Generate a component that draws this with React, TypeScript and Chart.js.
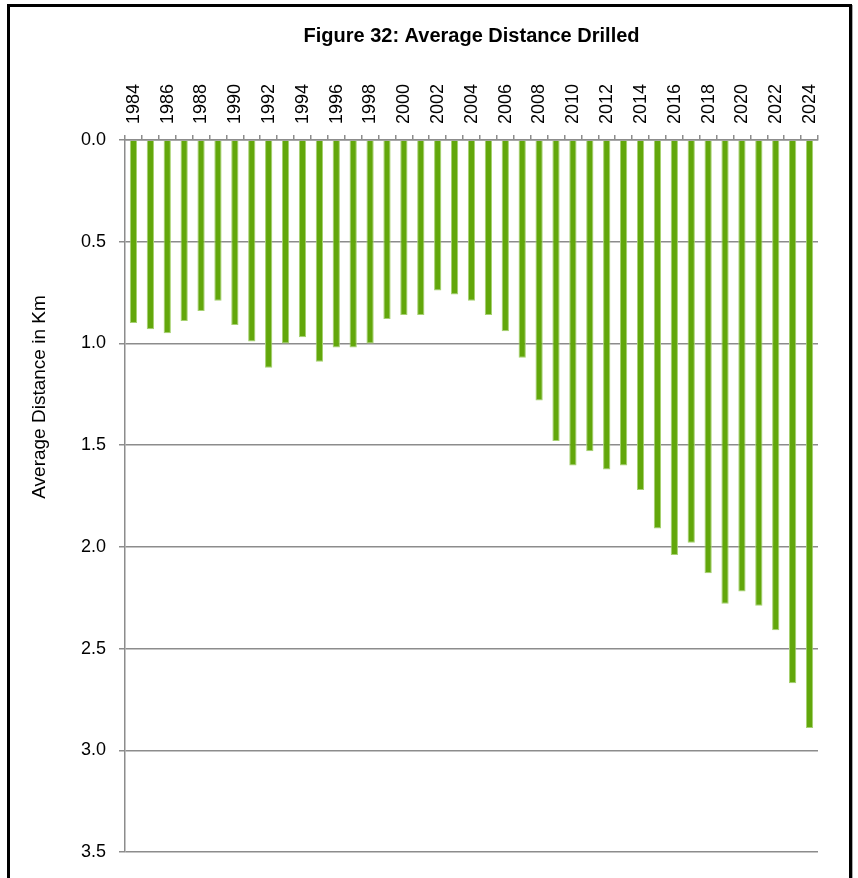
import React, { useEffect, useRef } from 'react';
import { Chart, registerables } from 'chart.js';

Chart.register(...registerables);

const CHART_TITLE = 'Figure 32: Average Distance Drilled';
const Y_AXIS_TITLE = 'Average Distance in Km';

const years: string[] = [
  '1984', '1985', '1986', '1987', '1988', '1989', '1990', '1991', '1992', '1993',
  '1994', '1995', '1996', '1997', '1998', '1999', '2000', '2001', '2002', '2003',
  '2004', '2005', '2006', '2007', '2008', '2009', '2010', '2011', '2012', '2013',
  '2014', '2015', '2016', '2017', '2018', '2019', '2020', '2021', '2022', '2023',
  '2024',
];

const avgDistanceKm: number[] = [
  0.90, 0.93, 0.95, 0.89, 0.84, 0.79, 0.91, 0.99, 1.12, 1.00,
  0.97, 1.09, 1.02, 1.02, 1.00, 0.88, 0.86, 0.86, 0.74, 0.76,
  0.79, 0.86, 0.94, 1.07, 1.28, 1.48, 1.60, 1.53, 1.62, 1.60,
  1.72, 1.91, 2.04, 1.98, 2.13, 2.28, 2.22, 2.29, 2.41, 2.67,
  2.89,
];

const Y_MIN = 0;
const Y_MAX = 3.5;
const Y_STEP = 0.5;

const FONT = '"Liberation Sans", Arial, sans-serif';
const GRID = '#8c8c8c';

const textPlugin = {
  id: 'customTexts',
  afterDraw(chart: any) {
    const { ctx, chartArea } = chart;
    ctx.save();
    ctx.fillStyle = '#000';
    ctx.font = `bold 20px ${FONT}`;
    ctx.textAlign = 'center';
    ctx.textBaseline = 'alphabetic';
    ctx.fillText(CHART_TITLE, (chartArea.left + chartArea.right) / 2, 42);

    ctx.font = `19px ${FONT}`;
    ctx.translate(44.5, 397);
    ctx.rotate(-Math.PI / 2);
    ctx.textAlign = 'center';
    ctx.textBaseline = 'alphabetic';
    ctx.fillText(Y_AXIS_TITLE, 0, 0);
    ctx.restore();
  },
};

export default function App() {
  const canvasRef = useRef<HTMLCanvasElement | null>(null);

  useEffect(() => {
    if (!canvasRef.current) return;
    const chart = new Chart(canvasRef.current, {
      type: 'bar',
      data: {
        labels: years,
        datasets: [
          {
            label: 'Average Distance in Km',
            data: avgDistanceKm,
            backgroundColor: '#62a70b',
            borderColor: '#a6d170',
            borderWidth: 1,
            barPercentage: 0.43,
            categoryPercentage: 1,
          },
        ],
      },
      options: {
        responsive: false,
        animation: false,
        devicePixelRatio: 1,
        layout: { padding: { left: 23, right: 40, top: 0, bottom: 26 } },
        plugins: {
          legend: { display: false },
          title: { display: false },
          tooltip: { enabled: false },
        },
        scales: {
          x: {
            position: 'top',
            offset: true,
            grid: {
              display: true,
              offset: true,
              drawOnChartArea: false,
              drawTicks: true,
              tickLength: 5,
              color: GRID,
              lineWidth: 1.5,
            },
            border: { display: true, color: GRID, width: 1.5 },
            ticks: {
              autoSkip: false,
              minRotation: 90,
              maxRotation: 90,
              padding: 11,
              labelOffset: 22,
              color: '#000',
              font: { family: FONT, size: 18 },
              callback: (_v: any, i: number) => (i % 2 === 0 ? years[i] : ''),
            },
            afterFit: (scale: any) => {
              scale.height = 140;
            },
          },
          y: {
            reverse: true,
            min: Y_MIN,
            max: Y_MAX,
            grid: {
              color: GRID,
              lineWidth: 1.5,
              drawTicks: true,
              tickLength: 6,
            },
            border: { display: true, color: GRID, width: 1.5 },
            ticks: {
              stepSize: Y_STEP,
              padding: 13,
              color: '#000',
              font: { family: FONT, size: 18 },
              callback: (v: any) => Number(v).toFixed(1),
            },
            title: { display: false },
            afterFit: (scale: any) => {
              scale.width = 102;
            },
          },
        },
      },
      plugins: [textPlugin],
    });
    return () => chart.destroy();
  }, []);

  return (
    <div style={{ position: 'absolute', left: 0, top: 0, width: 858, height: 878, background: '#fff', overflow: 'hidden' }}>
      <canvas
        ref={canvasRef}
        width={858}
        height={878}
        style={{ position: 'absolute', left: 0, top: 0, width: 858, height: 878 }}
      />
      <div
        style={{
          position: 'absolute',
          left: 7,
          top: 4,
          width: 845,
          height: 920,
          border: '3px solid #000',
          boxSizing: 'border-box',
          boxShadow: '1px 1px 0 #aaa',
          pointerEvents: 'none',
        }}
      />
    </div>
  );
}
